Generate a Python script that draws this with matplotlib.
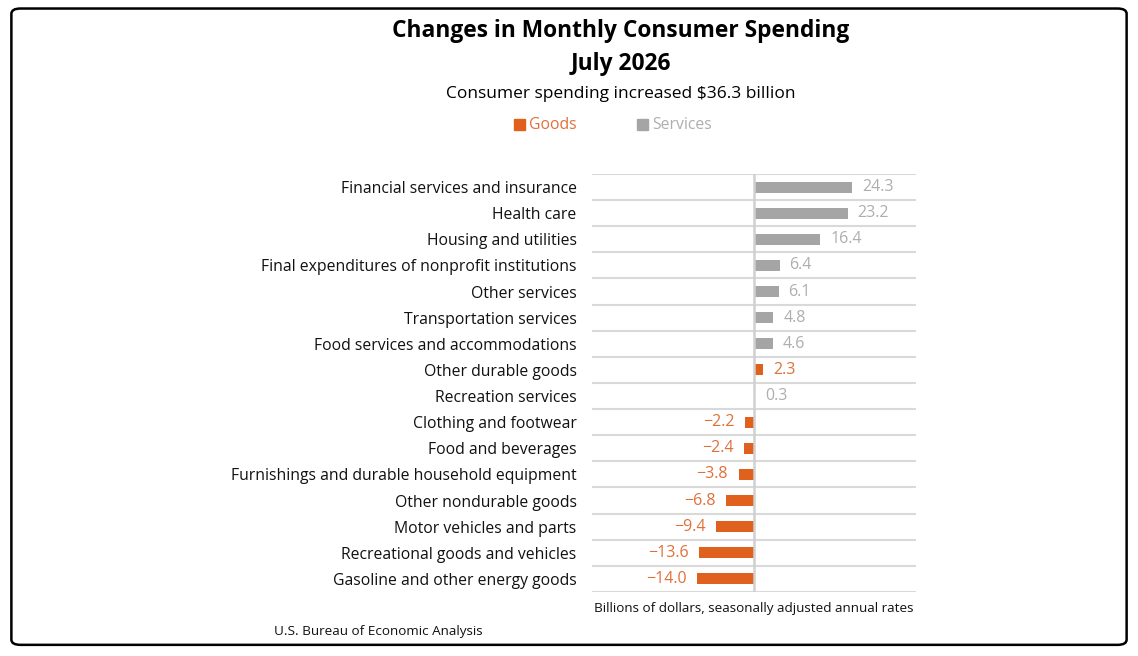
import matplotlib
matplotlib.use("Agg")
import matplotlib.pyplot as plt
from matplotlib.patches import FancyBboxPatch, Rectangle

categories = [
    "Financial services and insurance",
    "Health care",
    "Housing and utilities",
    "Final expenditures of nonprofit institutions",
    "Other services",
    "Transportation services",
    "Food services and accommodations",
    "Other durable goods",
    "Recreation services",
    "Clothing and footwear",
    "Food and beverages",
    "Furnishings and durable household equipment",
    "Other nondurable goods",
    "Motor vehicles and parts",
    "Recreational goods and vehicles",
    "Gasoline and other energy goods",
]
values = [24.3, 23.2, 16.4, 6.4, 6.1, 4.8, 4.6, 2.3, 0.3, -2.2, -2.4, -3.8, -6.8, -9.4, -13.6, -14.0]
types = ["S", "S", "S", "S", "S", "S", "S", "G", "S", "G", "G", "G", "G", "G", "G", "G"]

GOODS = "#E0611E"
SERV = "#A5A5A5"
GOODS_TXT = "#E0703A"
SERV_TXT = "#AEAEAE"
FONT = ["Open Sans", "DejaVu Sans"]

plt.rcParams['font.family'] = FONT

fig = plt.figure(figsize=(11.38, 6.56), dpi=100)

# border
border = FancyBboxPatch((0.010, 0.017), 0.980, 0.970, boxstyle="round,pad=0,rounding_size=0.008",
                        transform=fig.transFigure, fill=False, edgecolor="black", linewidth=1.8)
fig.patches.append(border)

ax = fig.add_axes([0.5202, 0.0976, 0.2847, 0.6372])
n = len(categories)
ys = list(range(n))
colors = [GOODS if t == "G" else SERV for t in types]
ax.barh(ys, values, height=0.42, color=colors, zorder=3)
ax.set_ylim(n - 0.5, -0.5)
ax.set_xlim(-40, 40)

for i in range(n + 1):
    ax.axhline(i - 0.5, color="#D9D9D9", linewidth=1.5, zorder=1)
ax.axvline(0, color="#D0D0D0", linewidth=1.8, zorder=4)

for y, v, t in zip(ys, values, types):
    txt = f"{v:.1f}".replace("-", "\u2212")
    col = GOODS_TXT if t == "G" else SERV_TXT
    if v >= 0:
        ax.text(v + 2.4, y, txt, va="center", ha="left", fontsize=11.5, color=col, zorder=5)
    else:
        ax.text(v - 2.6, y, txt, va="center", ha="right", fontsize=11.5, color=col, zorder=5)

ax.set_yticks(ys)
ax.set_yticklabels(categories, fontsize=11.3, color="#111111")
ax.tick_params(axis="y", length=0, pad=11)
ax.set_xticks([])
for s in ax.spines.values():
    s.set_visible(False)

fig.text(0.5457, 0.953, "Changes in Monthly Consumer Spending", ha="center", va="center",
         fontsize=16.4, fontweight="bold")
fig.text(0.5457, 0.902, "July 2026", ha="center", va="center", fontsize=16.4, fontweight="bold")
fig.text(0.5457, 0.857, "Consumer spending increased $36.3 billion", ha="center", va="center", fontsize=12.5)

# legend
fig.patches.append(Rectangle((0.4515, 0.802), 0.0095, 0.016, transform=fig.transFigure, color=GOODS))
fig.text(0.4645, 0.809, "Goods", ha="left", va="center", fontsize=11.3, color=GOODS_TXT)
fig.patches.append(Rectangle((0.5600, 0.802), 0.0095, 0.016, transform=fig.transFigure, color=SERV))
fig.text(0.5730, 0.809, "Services", ha="left", va="center", fontsize=11.3, color=SERV_TXT)

fig.text(0.6625, 0.073, "Billions of dollars, seasonally adjusted annual rates", ha="center",
         va="center", fontsize=9.7, color="#111111")
fig.text(0.241, 0.038, "U.S. Bureau of Economic Analysis", ha="left", va="center", fontsize=9.7, color="#111111")

fig.savefig("out.png", dpi=100)
